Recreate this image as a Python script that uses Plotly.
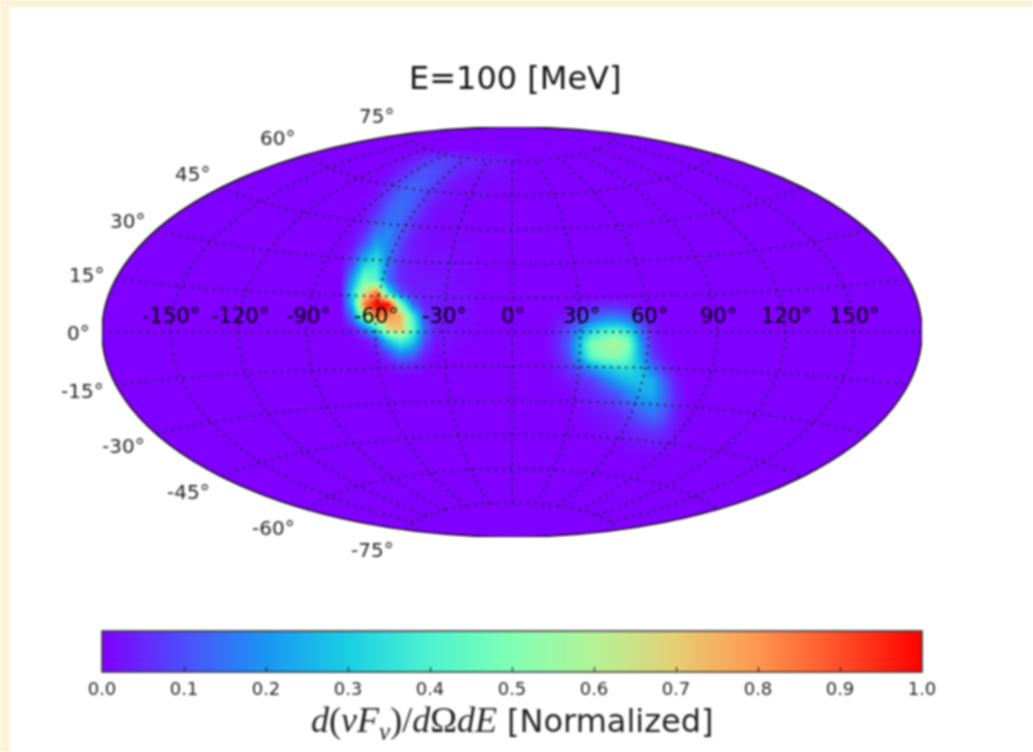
import numpy as np
import plotly.graph_objects as go

TITLE = "E=100 [MeV]"
LON_TICKS = [-150, -120, -90, -60, -30, 0, 30, 60, 90, 120, 150]
LAT_TICKS = [-75, -60, -45, -30, -15, 0, 15, 30, 45, 60, 75]
CBAR_TICKS = [0.0, 0.1, 0.2, 0.3, 0.4, 0.5, 0.6, 0.7, 0.8, 0.9, 1.0]
RAINBOW = ["rgb(128,0,255)", "rgb(77,79,252)", "rgb(26,150,243)", "rgb(26,206,227)",
           "rgb(77,243,206)", "rgb(128,255,180)", "rgb(179,243,150)", "rgb(230,206,116)",
           "rgb(255,150,79)", "rgb(255,79,40)", "rgb(255,0,0)"]

# Projected coordinates of the sky-map cells, in degrees on the Aitoff plane
WEST_X = [-75.5, -70.2, -65.0, -59.7, -54.4, -49.2, -43.9, -38.6, -33.4, -28.1, -22.8, -17.6, -12.3, -7.0, -1.8, 3.5]
WEST_Y = [80.8, 75.5, 70.2, 65.0, 59.7, 54.4, 49.2, 43.9, 38.6, 33.4, 28.1, 22.8, 17.6, 12.3, 7.0, 1.8, -3.5, -8.8, -14.0, -19.3]
WEST_Z = [
    [None, None, None, None, None, 0, 0, 0, 0, 0, 0, 0, 0, 0, 0, 0],
    [0, 0, 0, 0, 0, .01, .03, .06, .08, .08, .06, .05, .04, .03, .02, 0],
    [0, 0, 0, 0, .01, .04, .08, .11, .10, .07, .04, .03, .02, .02, .01, 0],
    [0, 0, 0, .01, .04, .09, .13, .11, .07, .03, .02, .01, .01, .01, .01, 0],
    [0, 0, 0, .02, .08, .13, .13, .08, .04, .02, .01, .01, .01, 0, 0, 0],
    [0, 0, .01, .05, .12, .15, .11, .05, .02, .01, .01, 0, 0, 0, 0, 0],
    [0, 0, .02, .09, .15, .14, .07, .03, .01, .01, .01, 0, 0, 0, 0, 0],
    [0, .01, .05, .15, .18, .11, .05, .02, .01, .01, .01, 0, 0, 0, 0, 0],
    [0, .02, .11, .22, .18, .08, .03, .02, .01, .01, .01, .01, 0, 0, 0, 0],
    [0, .06, .22, .32, .17, .06, .03, .02, .02, .02, .01, .01, 0, 0, 0, 0],
    [0, .12, .36, .38, .14, .05, .03, .02, .02, .02, .01, .01, 0, 0, 0, 0],
    [0, .22, .48, .42, .14, .05, .03, .03, .03, .02, .01, .01, 0, 0, 0, 0],
    [0, .30, .64, .85, .34, .10, .04, .03, .03, .02, .02, .01, 0, 0, 0, 0],
    [0, .27, .85, 1.0, 1.0, .50, .14, .04, .03, .02, .02, .01, 0, 0, 0, 0],
    [0, .15, .55, .82, .80, .75, .40, .08, .03, .02, .02, .01, 0, 0, 0, 0],
    [0, .03, .15, .35, .68, .72, .45, .14, .03, .02, .01, .01, 0, 0, 0, 0],
    [0, 0, .02, .08, .30, .42, .32, .10, .02, .02, .01, 0, 0, 0, 0, 0],
    [0, 0, 0, .02, .10, .20, .16, .05, .01, .01, 0, 0, 0, 0, 0, 0],
    [0, 0, 0, 0, .02, .06, .05, .02, 0, 0, 0, 0, 0, 0, 0, 0],
    [0, 0, 0, 0, 0, 0, 0, 0, 0, 0, 0, 0, 0, 0, 0, 0],
]

EAST_X = [13.9, 19.3, 24.6, 29.9, 35.1, 40.4, 45.7, 50.9, 56.2, 61.5, 66.7, 72.0, 77.2]
EAST_Y = [15.8, 10.5, 5.3, 0, -5.3, -10.5, -15.8, -21.1, -26.3, -31.6, -36.9, -42.1, -47.4, -52.7, -57.9]
EAST_Z = [
    [0, 0, 0, 0, 0, 0, 0, 0, 0, 0, 0, 0, 0],
    [0, 0, .01, .03, .05, .07, .07, .05, .02, 0, 0, 0, 0],
    [0, .02, .05, .10, .15, .20, .20, .17, .08, .02, 0, 0, 0],
    [0, .03, .10, .22, .35, .42, .45, .38, .15, .03, 0, 0, 0],
    [0, .04, .12, .30, .50, .56, .60, .50, .20, .05, .01, 0, 0],
    [0, .03, .10, .25, .45, .50, .52, .45, .22, .07, .02, 0, 0],
    [0, .02, .06, .12, .20, .28, .33, .35, .28, .15, .06, .01, 0],
    [0, .01, .03, .05, .08, .15, .22, .27, .28, .24, .12, .03, 0],
    [0, 0, .01, .03, .05, .08, .12, .18, .24, .24, .14, .04, 0],
    [0, 0, 0, .02, .03, .05, .07, .11, .17, .19, .13, .04, 0],
    [0, 0, 0, .01, .02, .03, .04, .07, .11, .14, .10, .03, 0],
    [0, 0, 0, 0, .01, .02, .03, .04, .06, .08, .06, .02, 0],
    [0, 0, 0, 0, 0, .01, .01, .02, .03, .04, .03, .01, 0],
    [0, 0, 0, 0, 0, 0, 0, .01, .01, .01, .01, 0, 0],
    [0, 0, 0, 0, 0, 0, 0, 0, 0, 0, 0, 0, 0],
]


def aitoff(lon_deg, lat_deg):
    lam = np.radians(lon_deg)
    phi = np.radians(lat_deg)
    alpha = np.arccos(np.cos(phi) * np.cos(lam / 2))
    s = np.sinc(alpha / np.pi)
    return np.degrees(2 * np.cos(phi) * np.sin(lam / 2) / s), np.degrees(np.sin(phi) / s)


W, H = 1033, 752
COLORSCALE = [[t, c] for t, c in zip(CBAR_TICKS, RAINBOW)]
fig = go.Figure()

fig.add_trace(go.Heatmap(x=WEST_X, y=WEST_Y, z=WEST_Z, zmin=0, zmax=1, zsmooth="best",
                         colorscale=COLORSCALE, hoverongaps=False,
                         colorbar=dict(orientation="h", xref="container", yref="container",
                                       x=102 / W, xanchor="left", y=(H - 631) / H, yanchor="top",
                                       lenmode="pixels", len=820, thicknessmode="pixels", thickness=41,
                                       tickvals=CBAR_TICKS, tickformat=".1f", ticks="inside", ticklen=5,
                                       tickcolor="#111", tickwidth=1,
                                       outlinecolor="#333", outlinewidth=1.5, xpad=0, ypad=0,
                                       tickfont=dict(family="DejaVu Sans", size=18, color="#222"))))
fig.add_trace(go.Heatmap(x=EAST_X, y=EAST_Y, z=EAST_Z, zmin=0, zmax=1, zsmooth="best",
                         colorscale=COLORSCALE, showscale=False))

dotted = dict(color="#20203a", width=2, dash="2px,5.5px")
lat_run = np.linspace(-180, 180, 181)
lon_run = np.linspace(-75, 75, 76)
for lat in LAT_TICKS:
    gx, gy = aitoff(lat_run, np.full_like(lat_run, lat, dtype=float))
    fig.add_trace(go.Scatter(x=gx, y=gy, mode="lines", line=dotted, hoverinfo="skip", showlegend=False))
for lon in LON_TICKS:
    gx, gy = aitoff(np.full_like(lon_run, lon, dtype=float), lon_run)
    fig.add_trace(go.Scatter(x=gx, y=gy, mode="lines", line=dotted, hoverinfo="skip", showlegend=False))

ann = []
for lon in LON_TICKS:
    ann.append(dict(x=lon, y=0, text=f"{lon}°", showarrow=False, yshift=16, xshift=1,
                    font=dict(family="DejaVu Sans", size=21, color="#000")))
for lat in LAT_TICKS:
    ex, ey = aitoff(-179.999, float(lat))
    ann.append(dict(x=float(ex), y=float(ey), text=f"{lat}°", showarrow=False, xanchor="right",
                    xshift=-10, yshift=20 * np.sin(np.radians(lat)) - 1,
                    font=dict(family="DejaVu Sans", size=20, color="#222")))
ann.append(dict(xref="paper", yref="paper", x=512 / W, y=(H - 722) / H, yanchor="middle", showarrow=False,
                text='<span style="font-family:Liberation Serif;font-size:36px"><i>d</i>(<i>νF<sub>ν</sub></i>)/<i>d</i>Ω<i>dE</i></span> [Normalized]',
                font=dict(family="DejaVu Sans", size=32, color="#222")))
ann.append(dict(xref="paper", yref="paper", x=515 / W, y=(H - 78) / H, yanchor="middle", showarrow=False, text=TITLE,
                font=dict(family="DejaVu Sans", size=32, color="#111")))

fig.update_layout(
    width=W, height=H, margin=dict(l=0, r=0, t=0, b=0, autoexpand=False),
    paper_bgcolor="#fcf2d6", plot_bgcolor="rgba(0,0,0,0)", showlegend=False,
    xaxis=dict(domain=[102 / W, 922 / W], range=[-180, 180], visible=False),
    yaxis=dict(domain=[(H - 537) / H, (H - 127) / H], range=[-90, 90], visible=False),
    annotations=ann,
    shapes=[
        dict(type="rect", xref="paper", yref="paper", x0=9 / W, x1=1, y0=0, y1=(H - 7) / H,
             fillcolor="white", line_width=0, layer="below"),
        dict(type="circle", xref="x", yref="y", x0=-180, x1=180, y0=-90, y1=90,
             fillcolor=RAINBOW[0], line=dict(color="#111", width=1.5), layer="below"),
    ],
)
fig.write_html("out.html", config=dict(displayModeBar=False),
               post_script="document.body.style.margin='0';document.body.style.overflow='hidden';document.querySelector('.plotly-graph-div').style.filter='blur(0.8px)';")
